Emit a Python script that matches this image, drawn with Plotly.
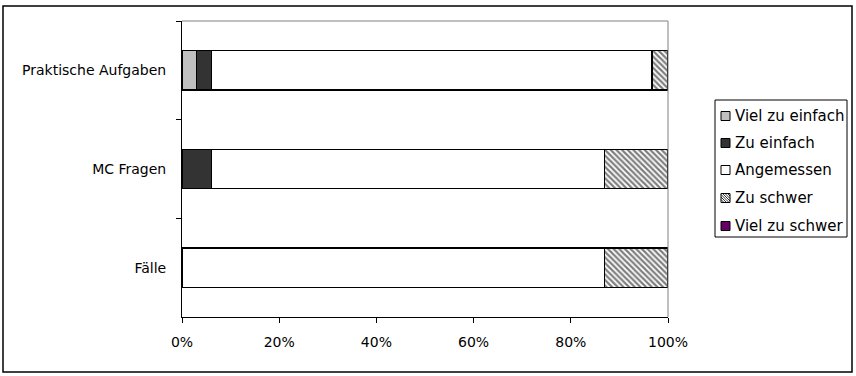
import plotly.graph_objects as go

# ---- data (percent) ----
categories = ["Praktische Aufgaben", "MC Fragen", "Fälle"]
series_names = ["Viel zu einfach", "Zu einfach", "Angemessen", "Zu schwer", "Viel zu schwer"]
viel_zu_einfach = [3.0, 0.0, 0.0]
zu_einfach = [3.0, 6.0, 0.0]
angemessen = [90.7, 80.9, 86.9]
zu_schwer = [3.3, 13.1, 13.1]
viel_zu_schwer = [0.0, 0.0, 0.0]
x_ticks = [0, 20, 40, 60, 80, 100]
x_tick_labels = ["0%", "20%", "40%", "60%", "80%", "100%"]

series_values = [viel_zu_einfach, zu_einfach, angemessen, zu_schwer, viel_zu_schwer]
colors = ["#C0C0C0", "#333333", "#FFFFFF", "#FFFFFF", "#660066"]

W, H = 856, 376
ML, MR, MT, MB = 182, 188, 21, 59
PW, PH = W - ML - MR, H - MT - MB


def xp(px):
    return (px - ML) / PW


def yp(py):
    return (H - MB - py) / PH


FONT = dict(family="DejaVu Sans", size=14, color="black")
LEG_FONT = dict(family="DejaVu Sans", size=15, color="black")

fig = go.Figure()
for name, vals, col in zip(series_names, series_values, colors):
    pattern = None
    if name == "Zu schwer":
        pattern = dict(shape="\\", fgcolor="black", bgcolor="white", size=4, solidity=0.55)
    fig.add_trace(go.Bar(
        y=categories, x=vals, name=name, orientation="h",
        width=0.4,
        marker=dict(color=col, line=dict(color="black", width=1.2), pattern=pattern),
        showlegend=False,
    ))

fig.update_layout(
    width=W, height=H,
    margin=dict(l=ML, r=MR, t=MT, b=MB, pad=0),
    barmode="stack",
    paper_bgcolor="white", plot_bgcolor="white",
    font=FONT,
    xaxis=dict(range=[0, 100], tickmode="array", tickvals=x_ticks, ticktext=x_tick_labels,
               showgrid=False, zeroline=False, showline=True, linecolor="black", linewidth=1,
               ticks="outside", ticklen=5, tickcolor="black", ticklabelstandoff=7),
    yaxis=dict(categoryorder="array", categoryarray=categories, range=[2.5, -0.5],
               showgrid=False, zeroline=False, showline=True, linecolor="black", linewidth=1,
               ticks="outside", ticklen=5, tickcolor="black", tickson="boundaries",
               ticklabelstandoff=12),
)

shapes = []
# grey top and right plot-area borders
shapes.append(dict(type="line", xref="paper", yref="paper", x0=0, x1=1, y0=1, y1=1,
                   line=dict(color="#808080", width=1)))
shapes.append(dict(type="line", xref="paper", yref="paper", x0=1, x1=1, y0=0, y1=1,
                   line=dict(color="#808080", width=1)))
# outer chart frame
shapes.append(dict(type="rect", xref="paper", yref="paper", x0=xp(3), x1=xp(852), y0=yp(372), y1=yp(6),
                   line=dict(color="black", width=1.5), fillcolor="rgba(0,0,0,0)", layer="below"))
# legend box
shapes.append(dict(type="rect", xref="paper", yref="paper", x0=xp(715), x1=xp(847), y0=yp(237), y1=yp(100),
                   line=dict(color="black", width=1), fillcolor="white"))

annotations = []
row_y = [116, 143, 170, 198, 226]
sw0, sw1 = 721, 730
for name, col, cy in zip(series_names, colors, row_y):
    y0, y1 = cy - 4.5, cy + 4.5
    shapes.append(dict(type="rect", xref="paper", yref="paper", x0=xp(sw0), x1=xp(sw1),
                       y0=yp(y1), y1=yp(y0), line=dict(color="black", width=1), fillcolor=col))
    if name == "Zu schwer":
        L = sw1 - sw0
        s = 2.5
        d = -L + s
        while d < L:
            if d >= 0:
                ax, ay, bx, by = sw0, y0 + d, sw0 + L - d, y1
            else:
                ax, ay, bx, by = sw0 - d, y0, sw1, y1 + d
            shapes.append(dict(type="line", xref="paper", yref="paper",
                               x0=xp(ax), y0=yp(ay), x1=xp(bx), y1=yp(by),
                               line=dict(color="black", width=0.8)))
            d += s
    annotations.append(dict(xref="paper", yref="paper", x=xp(733), y=yp(cy), text=name,
                            showarrow=False, xanchor="left", yanchor="middle", font=LEG_FONT))

fig.update_layout(shapes=shapes, annotations=annotations)

fig.write_html("out.html", config={"displayModeBar": False},
               post_script="document.body.style.margin='0px';document.body.style.padding='0px';")
